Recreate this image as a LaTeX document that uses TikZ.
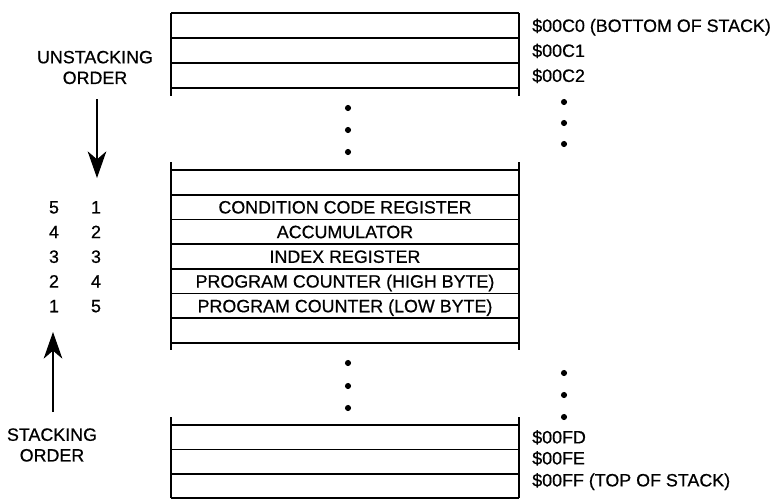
\documentclass[tikz,border=0pt]{standalone}
\usepackage{fontspec}
\setmainfont{Liberation Sans}
\newfontfamily\stackfont{Liberation Sans}[FakeBold=0.6]
\usetikzlibrary{arrows.meta}

\tikzset{
  stackline/.style={line width=1.2pt},
  labeltext/.style={font=\stackfont\fontsize{13.4}{15.5}\selectfont, inner sep=0pt},
  regtext/.style={labeltext, text height=9.6pt, text depth=0pt},
  addrtext/.style={regtext, anchor=west},
  ordertext/.style={labeltext, align=center},
  orderarrow/.style={-{Stealth[length=20pt,width=14pt,inset=6pt]}, line width=0.8pt},
  stackdot/.style={circle, fill, inner sep=0pt, minimum size=4.6pt}
}

\begin{document}
\begin{tikzpicture}[x=0.75pt, y=-0.75pt]
\useasboundingbox (0,0) rectangle (781,500);

% bottom of stack ($00C0 ...)
\foreach \y in {13,38,63,88}
  \draw[stackline] (171,\y) -- (519,\y);
\draw[stackline] (171,13) -- (171,96);
\draw[stackline] (519,13) -- (519,96);

\node[addrtext] (c0) at (532,25.5) {\$00C0 (BOTTOM OF STACK)};
\node[addrtext] (c1) at (532,50.5) {\$00C1};
\node[addrtext] (c2) at (532,75.5) {\$00C2};

\foreach \y [count=\i] in {108,130,152}
  \node[stackdot] (middot\i) at (348,\y) {};
\foreach \y [count=\i] in {102,123,144}
  \node[stackdot] (adrdot\i) at (564,\y) {};

% registers pushed on the stack
\foreach \k in {0,...,7}
  \draw[stackline] (171,{170+24.7*\k}) -- (519,{170+24.7*\k});
\draw[stackline] (171,162) -- (171,350);
\draw[stackline] (519,162) -- (519,350);

\foreach \t [count=\i] in {CONDITION CODE REGISTER, ACCUMULATOR, INDEX REGISTER,
    PROGRAM COUNTER (HIGH BYTE), PROGRAM COUNTER (LOW BYTE)}
  \node[regtext] (reg\i) at (345,{170+24.7*(\i+0.5)}) {\t};

\foreach \u/\s [count=\i] in {5/1,4/2,3/3,2/4,1/5} {
  \node[regtext] (pull\i) at (54,{170+24.7*(\i+0.5)}) {\u};
  \node[regtext] (push\i) at (96,{170+24.7*(\i+0.5)}) {\s};
}

\foreach \y [count=\i] in {363,386,408}
  \node[stackdot] (lowdot\i) at (348,\y) {};
\foreach \y [count=\i] in {373,395,417}
  \node[stackdot] (adrlowdot\i) at (564,\y) {};

% top of stack ($00FF)
\foreach \y in {425,449.4,473.8,498.2}
  \draw[stackline] (171,\y) -- (519,\y);
\draw[stackline] (171,417) -- (171,498.2);
\draw[stackline] (519,417) -- (519,498.2);

\node[addrtext] (fd) at (532,437) {\$00FD};
\node[addrtext] (fe) at (532,458) {\$00FE};
\node[addrtext] (ff) at (532,480) {\$00FF (TOP OF STACK)};

% order arrows
\node[ordertext] (unstack) at (95,67.5) {UNSTACKING\\ORDER};
\coordinate (unstacktip) at (97,178);
\draw[orderarrow, shorten <=11pt] (unstack.south -| unstacktip) -- (unstacktip);

\node[ordertext] (stack) at (52,445) {STACKING\\ORDER};
\coordinate (stacktip) at (53,332);
\draw[orderarrow, shorten <=12pt] (stack.north -| stacktip) -- (stacktip);

\end{tikzpicture}
\end{document}
